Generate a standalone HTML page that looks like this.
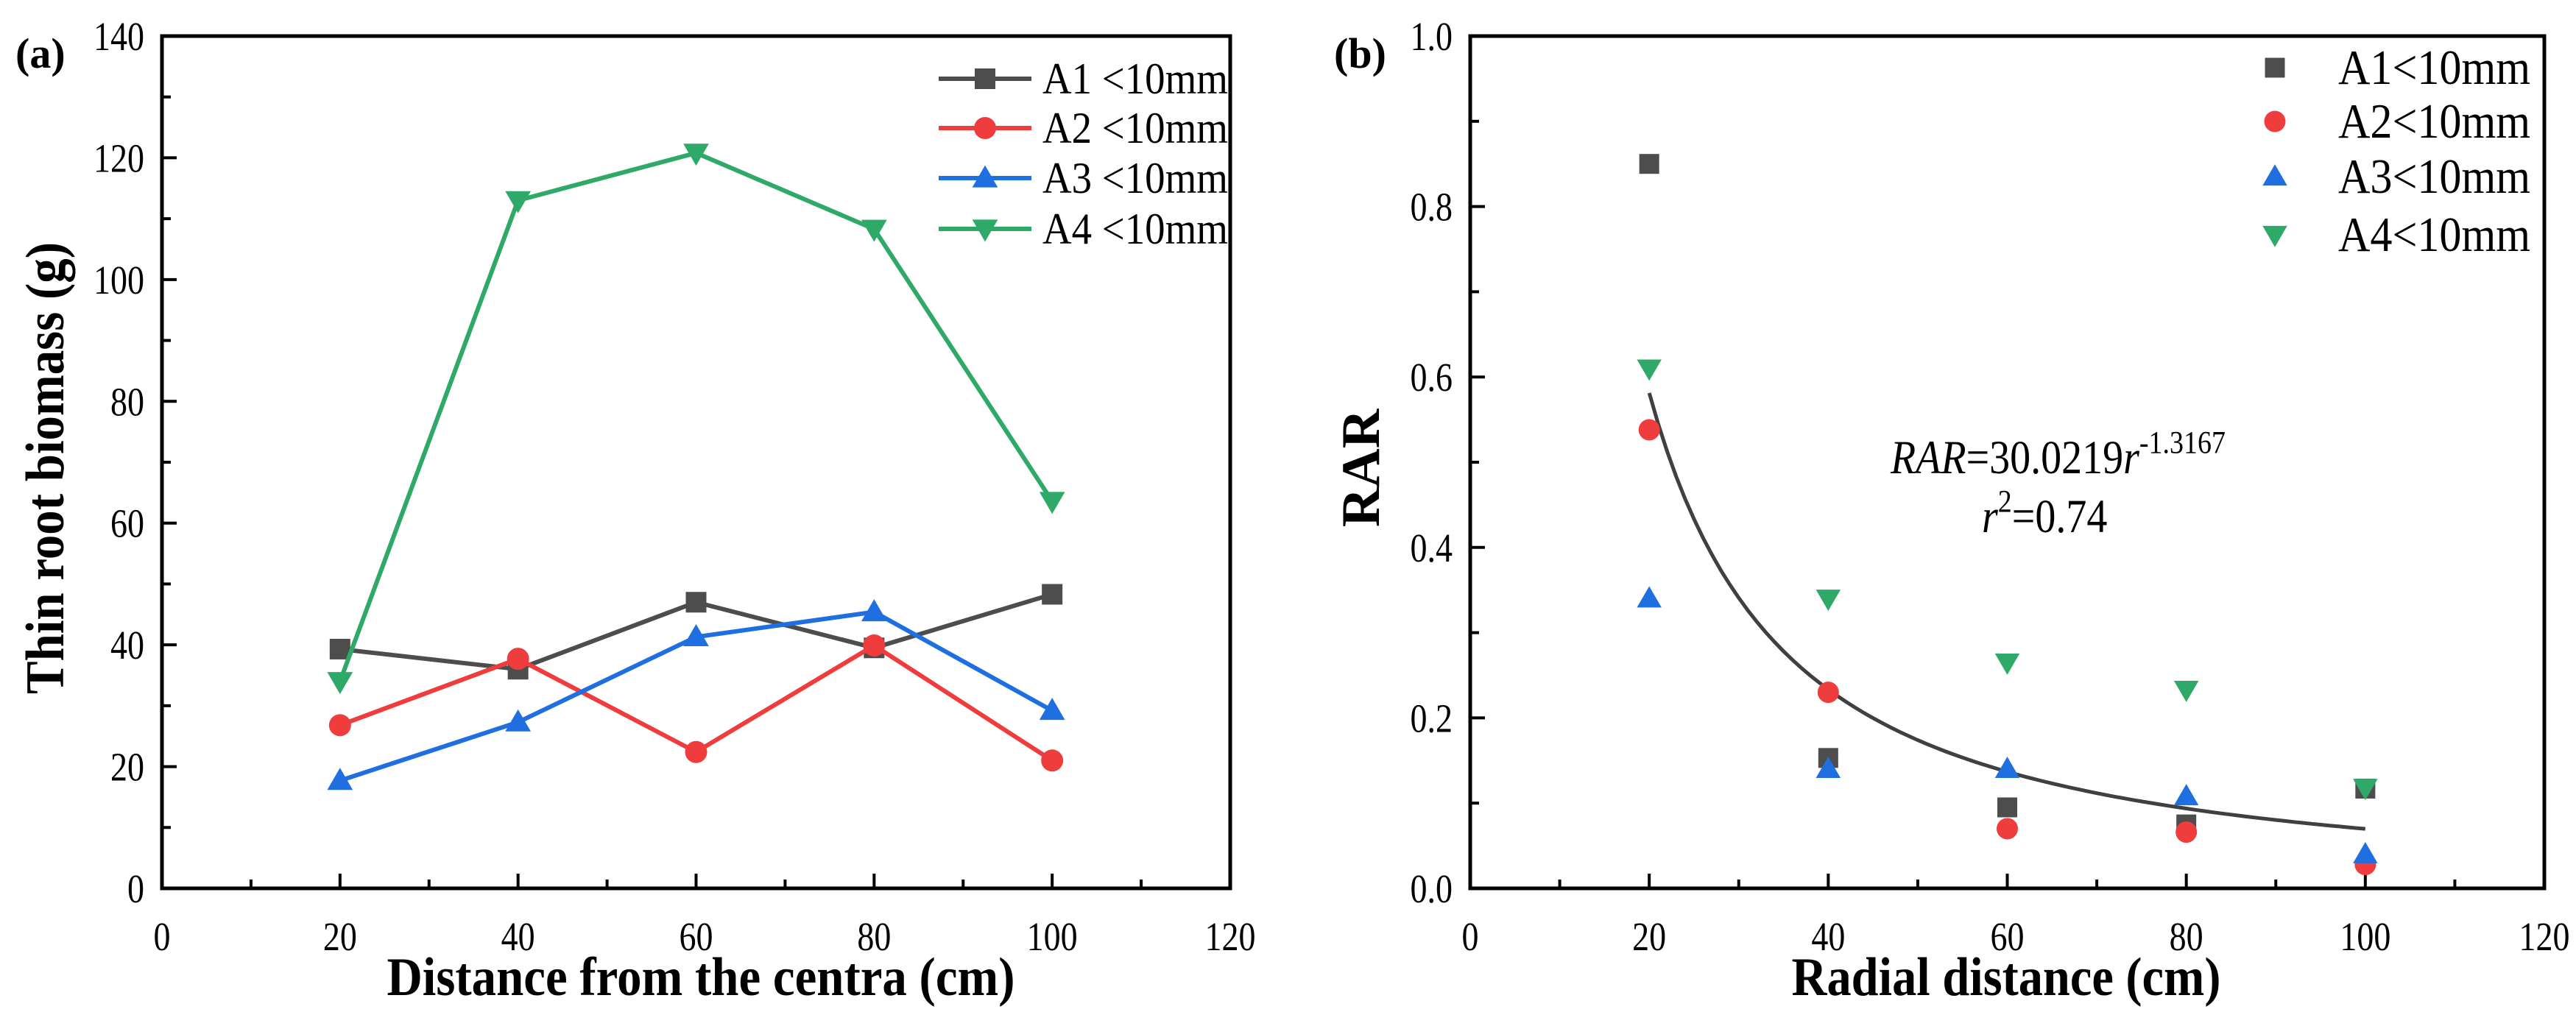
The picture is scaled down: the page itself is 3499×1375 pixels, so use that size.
<!DOCTYPE html>
<html><head><meta charset="utf-8"><style>
html,body{margin:0;padding:0;background:#fff;}
svg{display:block;font-family:"Liberation Serif",serif;}
</style></head><body>
<svg id="fig" width="3499" height="1375" viewBox="0 0 3499 1375" xmlns="http://www.w3.org/2000/svg"></svg>
<script>
const distances = [20, 40, 60, 80, 100];
const biomassA1 = [39.3, 36.0, 47.0, 39.5, 48.3];
const biomassA2 = [26.8, 37.7, 22.4, 39.9, 21.0];
const biomassA3 = [17.7, 27.3, 41.3, 45.4, 29.2];
const biomassA4 = [34.0, 113.0, 120.8, 108.3, 63.6];
const rarA1 = [0.85, 0.153, 0.095, 0.075, 0.117];
const rarA2 = [0.538, 0.23, 0.07, 0.066, 0.028];
const rarA3 = [0.34, 0.14, 0.14, 0.108, 0.04];
const rarA4 = [0.61, 0.34, 0.265, 0.233, 0.118];
const xTicks = [0, 20, 40, 60, 80, 100, 120];
const yTicksA = [0, 20, 40, 60, 80, 100, 120, 140];
const yTicksB = [0, 0.2, 0.4, 0.6, 0.8, 1.0];
const seriesNames = ["A1", "A2", "A3", "A4"];
const fitA = 30.0219, fitB = -1.3167;

const NS = "http://www.w3.org/2000/svg";
const svg = document.getElementById("fig");
const colors = ["#4d4d4d", "#ef3d3d", "#1f6fe0", "#2fa968"];
const shapes = ["square", "circle", "up", "down"];
function el(tag, attrs, parent) {
  const e = document.createElementNS(NS, tag);
  for (const k in attrs) e.setAttribute(k, attrs[k]);
  (parent || svg).appendChild(e);
  return e;
}
function marker(g, shape, cx, cy, s, color) {
  let m;
  if (shape === "square") m = el("rect", {x: cx - s/2, y: cy - s/2, width: s, height: s, fill: color}, g);
  else if (shape === "circle") m = el("circle", {cx: cx, cy: cy, r: s/2 + 1, fill: color}, g);
  else if (shape === "up") m = el("polygon", {points: `${cx},${cy - s*0.62} ${cx - s*0.62},${cy + s*0.45} ${cx + s*0.62},${cy + s*0.45}`, fill: color}, g);
  else m = el("polygon", {points: `${cx},${cy + s*0.62} ${cx - s*0.62},${cy - s*0.45} ${cx + s*0.62},${cy - s*0.45}`, fill: color}, g);
  return m;
}
function tallText(g, x, y, size, anchor, str) {
  const t = el("text", {x: x, y: 0, "font-size": size, "text-anchor": anchor, transform: `translate(0,${y}) scale(1,1.2)`}, g);
  t.textContent = str;
  return t;
}
function makeAxes(L, R, T, B, yMax, yTicks, yFmt, name) {
  const g = el("g", {});
  
  
  const xs = v => L + (v / 120) * (R - L);
  const ys = v => B - (v / yMax) * (B - T);
  el("rect", {x: L, y: T, width: R - L, height: B - T, fill: "none", stroke: "#000", "stroke-width": 5}, g);
  for (let i = 0; i < xTicks.length; i++) {
    const v = xTicks[i];
    el("line", {x1: xs(v), x2: xs(v), y1: B, y2: B - 20, stroke: "#000", "stroke-width": 4}, g);
    if (i < xTicks.length - 1) { const m = v + 10; el("line", {x1: xs(m), x2: xs(m), y1: B, y2: B - 12, stroke: "#000", "stroke-width": 4}, g); }
    const t = tallText(g, xs(v), B + 84, 46, "middle", String(v));
    
    
  }
  for (let i = 0; i < yTicks.length; i++) {
    const v = yTicks[i];
    el("line", {x1: L, x2: L + 20, y1: ys(v), y2: ys(v), stroke: "#000", "stroke-width": 4}, g);
    if (i < yTicks.length - 1) { const m = (v + yTicks[i+1]) / 2; el("line", {x1: L, x2: L + 12, y1: ys(m), y2: ys(m), stroke: "#000", "stroke-width": 4}, g); }
    const t = tallText(g, L - 24, ys(v) + 19, 46, "end", yFmt(v));
    
    
  }
  return {xs, ys, g};
}

// Panel (a)
const A = makeAxes(220, 1671, 49, 1207, 140, yTicksA, v => String(v), "panel-a");
const biomass = [biomassA1, biomassA2, biomassA3, biomassA4];
for (let s = 0; s < 4; s++) {
  const g = el("g", {});
  
  
  const pts = distances.map((d, i) => A.xs(d) + "," + A.ys(biomass[s][i])).join(" ");
  el("polyline", {points: pts, fill: "none", stroke: colors[s], "stroke-width": 6}, g);
  distances.forEach((d, i) => {
    const m = marker(g, shapes[s], A.xs(d), A.ys(biomass[s][i]), 28, colors[s]);
    
    
  });
}
const legA = [107, 174, 242, 311];
for (let s = 0; s < 4; s++) {
  const g = el("g", {});
  
  
  el("line", {x1: 1275, x2: 1401, y1: legA[s], y2: legA[s], stroke: colors[s], "stroke-width": 6}, g);
  marker(g, shapes[s], 1338, legA[s], 28, colors[s]);
  const t = el("text", {x: 1416, y: 0, "font-size": 50, transform: `translate(0,${legA[s] + 20}) scale(1,1.2)`, textLength: 252, lengthAdjust: "spacingAndGlyphs"}, g);
  t.textContent = seriesNames[s] + " <10mm";
}
let t = el("text", {x: 21, y: 92, "font-size": 58, "font-weight": "bold"});
t.textContent = "(a)";  
t = el("text", {x: 0, y: 0, "font-size": 74, "font-weight": "bold", "text-anchor": "middle", transform: "translate(86,636) rotate(-90)", textLength: 614, lengthAdjust: "spacingAndGlyphs"});
t.textContent = "Thin root biomass (g)";  
t = el("text", {x: 952, y: 1352, "font-size": 74, "font-weight": "bold", "text-anchor": "middle", textLength: 853, lengthAdjust: "spacingAndGlyphs"});
t.textContent = "Distance from the centra (cm)";  

// Panel (b)
const Bx = makeAxes(1997, 3456, 49, 1207, 1.0, yTicksB, v => v.toFixed(1), "panel-b");
const rar = [rarA1, rarA2, rarA3, rarA4];
let d = "";
for (let r = 20; r <= 100; r += 1) {
  const y = fitA * Math.pow(r, fitB);
  d += (r === 20 ? "M" : "L") + Bx.xs(r).toFixed(1) + "," + Bx.ys(y).toFixed(1);
}
const fit = el("path", {d: d, fill: "none", stroke: "#404040", "stroke-width": 5});


for (let s = 0; s < 4; s++) {
  const g = el("g", {});
  
  
  distances.forEach((dd, i) => {
    const m = marker(g, shapes[s], Bx.xs(dd), Bx.ys(rar[s][i]), 27, colors[s]);
    
    
  });
}
const legB = [92, 165, 240, 319];
for (let s = 0; s < 4; s++) {
  const g = el("g", {});
  
  
  marker(g, shapes[s], 3090, legB[s], 27, colors[s]);
  const tt = el("text", {x: 3176, y: 0, "font-size": 56, transform: `translate(0,${legB[s] + 22}) scale(1,1.2)`, textLength: 261, lengthAdjust: "spacingAndGlyphs"}, g);
  tt.textContent = seriesNames[s] + "<10mm";
}
t = el("text", {x: 1812, y: 92, "font-size": 58, "font-weight": "bold"});
t.textContent = "(b)";  
t = el("text", {x: 0, y: 0, "font-size": 74, "font-weight": "bold", "text-anchor": "middle", transform: "translate(1873,636) rotate(-90)"});
t.textContent = "RAR";  
t = el("text", {x: 2725, y: 1352, "font-size": 74, "font-weight": "bold", "text-anchor": "middle", textLength: 583, lengthAdjust: "spacingAndGlyphs"});
t.textContent = "Radial distance (cm)";  
t = el("text", {x: 2568, y: 0, "font-size": 56, transform: "translate(0,643) scale(1,1.15)"});
 
t.innerHTML = '<tspan font-style="italic">RAR</tspan>=30.0219<tspan font-style="italic">r</tspan><tspan dy="-24" font-size="38">-1.3167</tspan>';
t = el("text", {x: 2692, y: 0, "font-size": 56, transform: "translate(0,723) scale(1,1.15)"});
 
t.innerHTML = '<tspan font-style="italic">r</tspan><tspan dy="-24" font-size="38">2</tspan><tspan dy="24">=0.74</tspan>';
</script>
</body></html>
